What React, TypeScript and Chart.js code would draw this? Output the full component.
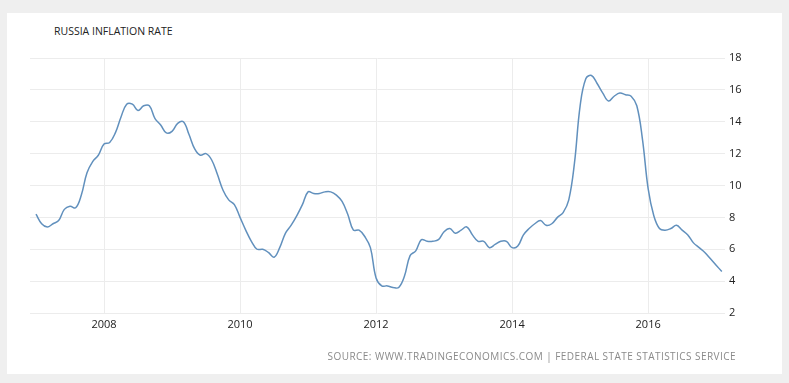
import React, { useEffect, useRef } from "react";
import { Chart, registerables } from "chart.js";

Chart.register(...registerables);

const START_YEAR = 2007;
const infl2007 = [8.2, 7.6, 7.4, 7.6, 7.8, 8.5, 8.7, 8.6, 9.4, 10.8, 11.5, 11.9];
const infl2008 = [12.6, 12.7, 13.3, 14.3, 15.1, 15.1, 14.7, 15.0, 15.0, 14.2, 13.8, 13.3];
const infl2009 = [13.4, 13.9, 14.0, 13.2, 12.3, 11.9, 12.0, 11.6, 10.7, 9.7, 9.1, 8.8];
const infl2010 = [8.0, 7.2, 6.5, 6.0, 6.0, 5.8, 5.5, 6.1, 7.0, 7.5, 8.1, 8.8];
const infl2011 = [9.6, 9.5, 9.5, 9.6, 9.6, 9.4, 9.0, 8.2, 7.2, 7.2, 6.8, 6.1];
const infl2012 = [4.2, 3.7, 3.7, 3.6, 3.6, 4.3, 5.6, 5.9, 6.6, 6.5, 6.5, 6.6];
const infl2013 = [7.1, 7.3, 7.0, 7.2, 7.4, 6.9, 6.5, 6.5, 6.1, 6.3, 6.5, 6.5];
const infl2014 = [6.1, 6.2, 6.9, 7.3, 7.6, 7.8, 7.5, 7.6, 8.0, 8.3, 9.1, 11.4];
const infl2015 = [15.0, 16.7, 16.9, 16.4, 15.8, 15.3, 15.6, 15.8, 15.7, 15.6, 15.0, 12.9];
const infl2016 = [9.8, 8.1, 7.3, 7.2, 7.3, 7.5, 7.2, 6.9, 6.4, 6.1, 5.8, 5.4];
const infl2017 = [5.0, 4.6];

const yearTicks = [2008, 2010, 2012, 2014, 2016];
const yTicks = [2, 4, 6, 8, 10, 12, 14, 16, 18];

const TITLE = "RUSSIA INFLATION RATE";
const SOURCE = "SOURCE: WWW.TRADINGECONOMICS.COM | FEDERAL STATE STATISTICS SERVICE";

const allValues = [
  ...infl2007, ...infl2008, ...infl2009, ...infl2010, ...infl2011, ...infl2012,
  ...infl2013, ...infl2014, ...infl2015, ...infl2016, ...infl2017,
];

export default function App() {
  const ref = useRef<HTMLCanvasElement | null>(null);

  useEffect(() => {
    document.body.style.margin = "0";
    const canvas = ref.current;
    if (!canvas) return;
    const points = allValues.map((v, i) => ({ x: START_YEAR + i / 12, y: v }));
    const chart = new Chart(canvas, {
      type: "line",
      data: {
        datasets: [
          {
            data: points,
            borderColor: "#6190bd",
            borderWidth: 1.5,
            pointRadius: 0,
            tension: 0.4,
            fill: false,
          },
        ],
      },
      options: {
        responsive: false,
        animation: false,
        devicePixelRatio: 1,
        layout: { padding: { left: 30, top: 58, right: 0, bottom: 46 } },
        plugins: { legend: { display: false }, tooltip: { enabled: false }, title: { display: false } },
        scales: {
          x: {
            type: "linear",
            min: 2006.912,
            max: 2017.13,
            afterBuildTicks: (scale: any) => {
              scale.ticks = yearTicks.map((v) => ({ value: v }));
            },
            afterFit: (scale: any) => {
              scale.height = 24;
            },
            grid: { color: "#ececec", drawTicks: false, lineWidth: 1 },
            border: { display: false },
            ticks: {
              padding: 5,
              color: "#222",
              font: { family: "'Open Sans', sans-serif", size: 11 },
              maxRotation: 0,
              autoSkip: false,
              callback: (v: any) => String(v),
            },
          },
          y: {
            position: "right",
            min: 2,
            max: 18,
            afterBuildTicks: (scale: any) => {
              scale.ticks = yTicks.map((v) => ({ value: v }));
            },
            afterFit: (scale: any) => {
              scale.width = 64;
            },
            grid: { color: "#ececec", drawTicks: false, lineWidth: 1 },
            border: { display: false },
            ticks: {
              padding: 4,
              color: "#222",
              font: { family: "'Open Sans', sans-serif", size: 11 },
            },
          },
        },
      },
    });
    return () => chart.destroy();
  }, []);

  return (
    <div style={{ position: "absolute", left: 0, top: 0, width: 789, height: 383, background: "#efefef", overflow: "hidden" }}>
      <div style={{ position: "absolute", left: 7, top: 13, width: 775, height: 361, background: "#ffffff" }} />
      <div
        style={{
          position: "absolute",
          left: 54,
          top: 24,
          fontFamily: "'Open Sans', sans-serif",
          fontSize: 10.5,
          color: "#222",
          lineHeight: "14px",
          whiteSpace: "nowrap",
        }}
      >
        {TITLE}
      </div>
      <canvas ref={ref} width={789} height={383} style={{ position: "absolute", left: 0, top: 0 }} />
      <div
        style={{
          position: "absolute",
          right: 789 - 736,
          top: 349,
          fontFamily: "'Open Sans', sans-serif",
          fontSize: 10,
          letterSpacing: "0.45px",
          color: "#8a8a8a",
          lineHeight: "14px",
          whiteSpace: "nowrap",
        }}
      >
        {SOURCE}
      </div>
    </div>
  );
}
